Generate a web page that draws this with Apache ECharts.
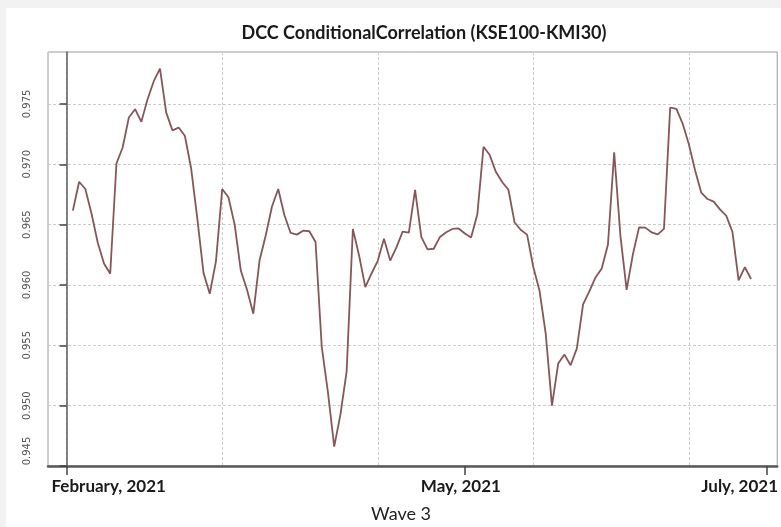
<!DOCTYPE html>
<html>
<head>
<meta charset="utf-8">
<script src="https://cdn.jsdelivr.net/npm/echarts@6/dist/echarts.min.js"></script>
<style>
  html, body { margin: 0; padding: 0; background: #f2f2f2; }
  #chart { width: 781px; height: 527px; }
</style>
</head>
<body>
<div id="chart"></div>
<script>
// DCC conditional correlation between KSE100 and KMI30, one value per trading day
const dccCorrelation = [
  0.96616, 0.96855, 0.96795, 0.96590, 0.96350, 0.96177, 0.96093, 0.97006, 0.97139, 0.97388,
  0.97456, 0.97351, 0.97538, 0.97688, 0.97792, 0.97428, 0.97281, 0.97304, 0.97236, 0.96967,
  0.96550, 0.96098, 0.95927, 0.96198, 0.96795, 0.96726, 0.96500, 0.96117, 0.95958, 0.95762,
  0.96202, 0.96412, 0.96650, 0.96795, 0.96578, 0.96431, 0.96417, 0.96450, 0.96445, 0.96356,
  0.95487, 0.95107, 0.94660, 0.94926, 0.95284, 0.96464, 0.96244, 0.95982, 0.96095, 0.96200,
  0.96382, 0.96202, 0.96311, 0.96442, 0.96434, 0.96787, 0.96398, 0.96294, 0.96300, 0.96398,
  0.96436, 0.96464, 0.96468, 0.96426, 0.96393, 0.96583, 0.97145, 0.97076, 0.96935, 0.96853,
  0.96789, 0.96517, 0.96455, 0.96417, 0.96149, 0.95952, 0.95594, 0.95000, 0.95349, 0.95423,
  0.95335, 0.95475, 0.95839, 0.95946, 0.96062, 0.96136, 0.96335, 0.97098, 0.96409, 0.95960,
  0.96252, 0.96477, 0.96475, 0.96436, 0.96419, 0.96464, 0.97469, 0.97459, 0.97337, 0.97165,
  0.96951, 0.96764, 0.96712, 0.96690, 0.96626, 0.96574, 0.96442, 0.96037, 0.96147, 0.96049
];
const firstObs = 1;

// Month labels, placed at observation positions on the index axis
const monthTickPos = [0, 64, 112.5];
const monthTickLabels = ['February, 2021', 'May, 2021', 'July, 2021'];

// Vertical grid lines every 25 observations
const gridLinePos = [0, 25, 50, 75, 100];

// Correlation axis range and step
const yMin = 0.945, yMax = 0.9793, yStep = 0.005;

const chartTitle = 'DCC ConditionalCorrelation (KSE100-KMI30)';
const footerText = 'Wave 3';

const seriesData = dccCorrelation.map((v, i) => [firstObs + i, v]);

const xMin = -3, xMax = 114.2;
const labelRich = ['lead', 'mid', 'tail'];
const monthFont = { fontFamily: 'Lato', fontWeight: 'bold', fontSize: 17, color: '#1a1a1a' };

const chart = echarts.init(document.getElementById('chart'), null, { renderer: 'canvas' });
chart.setOption({
  backgroundColor: 'transparent',
  animation: false,
  graphic: [{
    type: 'rect', left: 6, top: 8, z: -10,
    shape: { width: 775, height: 519 },
    style: { fill: '#ffffff' }, silent: true
  }],
  title: [{
    text: chartTitle,
    left: 419, top: 19, textAlign: 'center',
    textStyle: { fontFamily: 'Lato', fontWeight: 'bold', fontSize: 18, color: '#1a1a1a' }
  }, {
    text: footerText,
    left: 396, top: 500, textAlign: 'center',
    textStyle: { fontFamily: 'Lato', fontWeight: 'normal', fontSize: 18, color: '#222' }
  }],
  grid: {
    left: 48, right: 2, top: 52, bottom: 61,
    show: true, borderColor: '#9a9a9a', borderWidth: 1, backgroundColor: '#ffffff'
  },
  xAxis: [{
    type: 'value', min: xMin, max: xMax, position: 'bottom',
    axisLine: { show: true, lineStyle: { color: '#5a5a5a', width: 2.5 } },
    axisTick: { show: false, customValues: gridLinePos },
    axisLabel: { show: false },
    splitLine: { show: true, lineStyle: { color: '#cdcdcd', type: [3, 2], width: 1 } }
  }, {
    type: 'value', min: xMin, max: xMax, position: 'bottom', offset: 0,
    axisLine: { show: false },
    axisTick: { show: true, customValues: monthTickPos, length: 9, lineStyle: { color: '#444', width: 1.5 } },
    axisLabel: {
      customValues: monthTickPos,
      margin: 12,
      formatter: (v) => {
        const k = monthTickPos.indexOf(v);
        return k < 0 ? '' : '{' + labelRich[k] + '|' + monthTickLabels[k] + '}';
      },
      rich: {
        lead: Object.assign({ padding: [0, 0, 0, 84] }, monthFont),
        mid: Object.assign({ padding: [0, 8, 0, 0] }, monthFont),
        tail: Object.assign({ padding: [0, 54, 0, 0] }, monthFont)
      }
    },
    splitLine: { show: false }
  }],
  yAxis: {
    type: 'value', min: yMin, max: yMax, interval: yStep,
    axisLine: { show: true, lineStyle: { color: '#5a5a5a', width: 1.5 } },
    axisTick: { show: true, length: 7, lineStyle: { color: '#444', width: 1.5 } },
    axisLabel: {
      rotate: 90, margin: 16, showMaxLabel: false,
      fontFamily: 'DejaVu Sans', fontSize: 10, color: '#555',
      formatter: (v) => {
        const s = v.toFixed(3);
        // lift the bottom label clear of the date axis
        return Math.abs(v - yMin) < 1e-9 ? '{lo|' + s + '}' : s;
      },
      rich: {
        lo: { fontFamily: 'DejaVu Sans', fontSize: 10, color: '#555', padding: [0, 0, 0, 30] }
      }
    },
    splitLine: { show: true, lineStyle: { color: '#cdcdcd', type: [3, 2], width: 1 } }
  },
  series: [{
    type: 'line',
    xAxisIndex: 0,
    data: seriesData,
    showSymbol: false,
    lineStyle: { color: '#86565b', width: 1.8 },
    z: 5
  }]
});
</script>
</body>
</html>
